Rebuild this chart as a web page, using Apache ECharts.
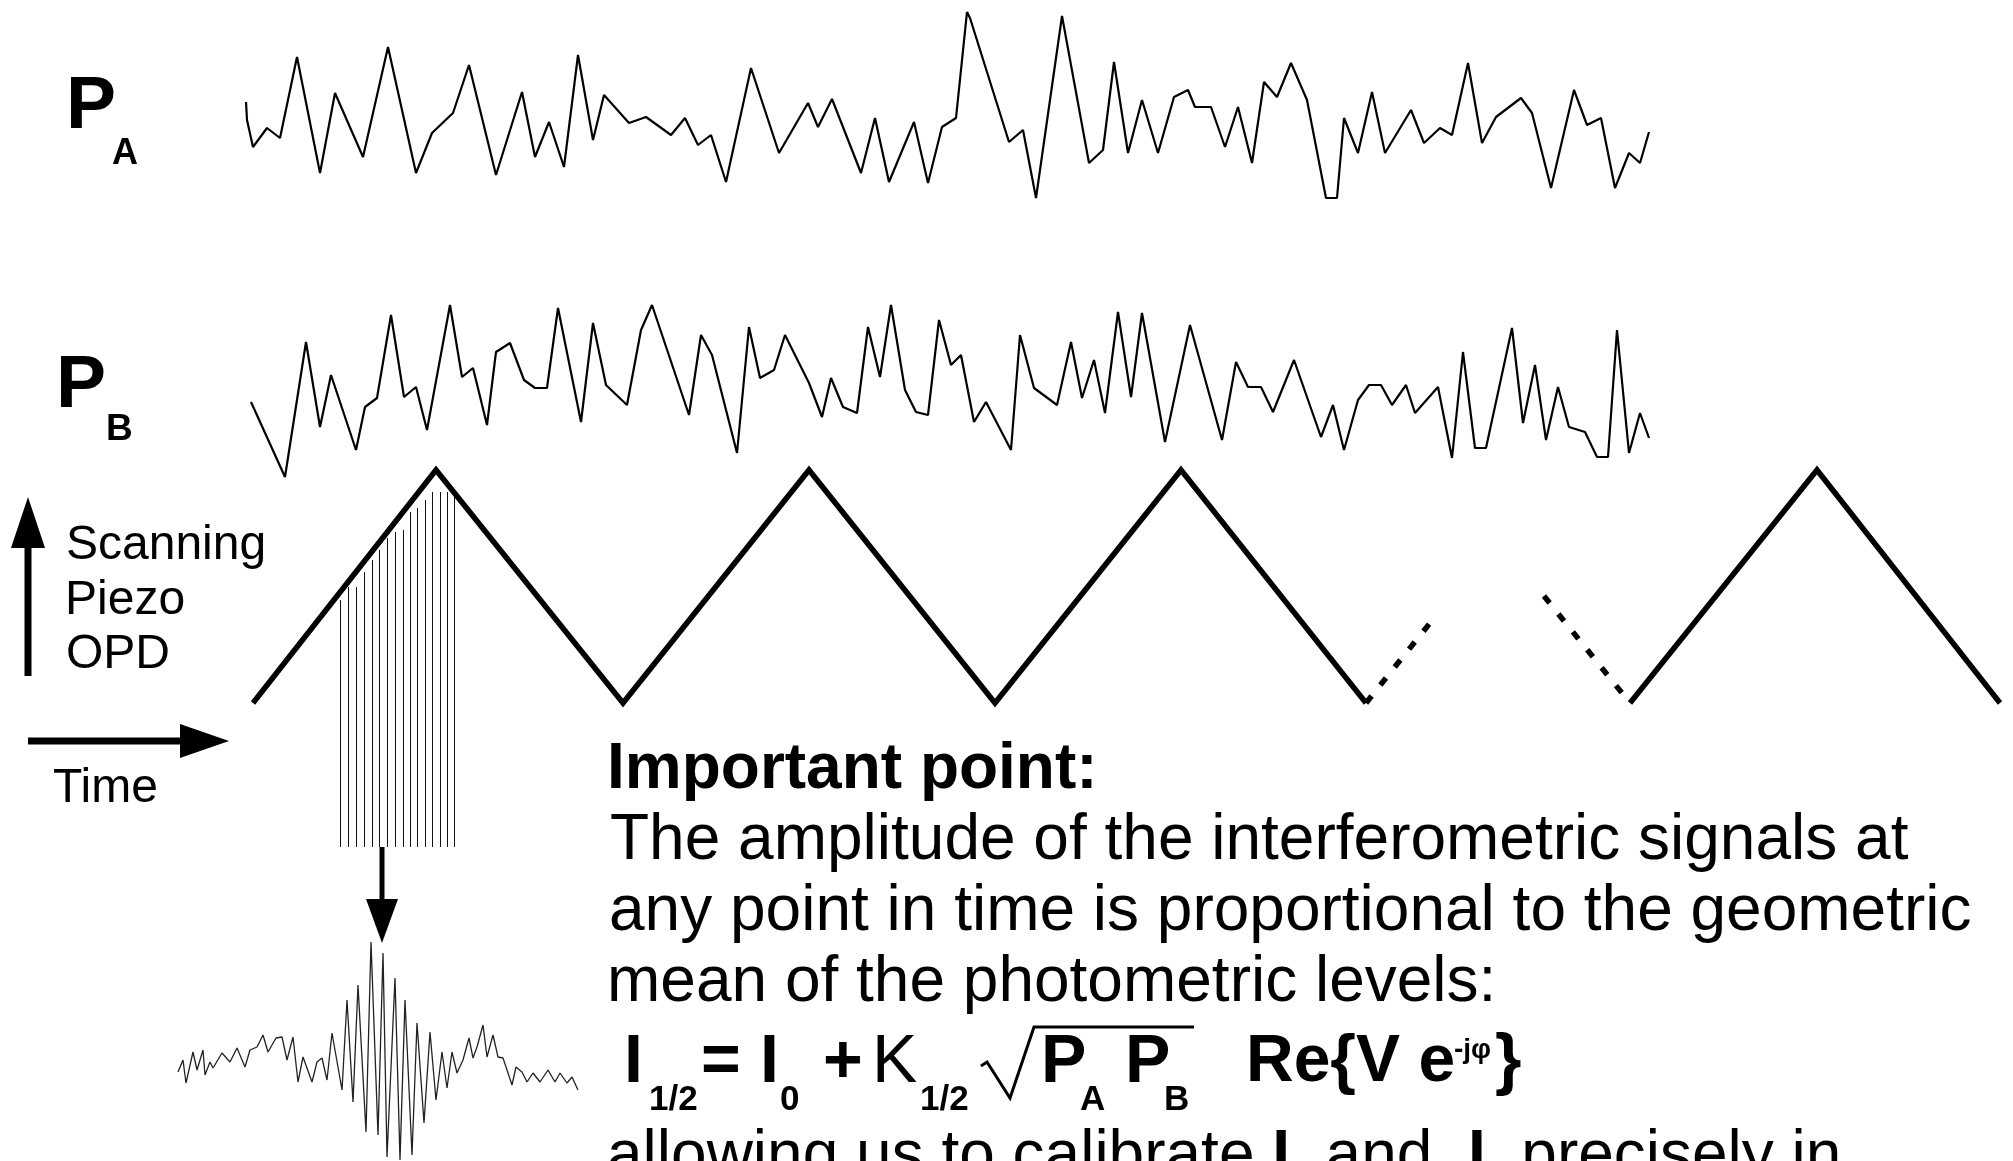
<!DOCTYPE html>
<html><head><meta charset="utf-8">
<script src="https://cdn.jsdelivr.net/npm/echarts@6/dist/echarts.min.js"></script>
<style>html,body{margin:0;padding:0;background:#fff}#c{width:2013px;height:1161px}</style>
</head><body><div id="c"></div><script>
// Photometric signal PA (time in samples, level in arbitrary units)
const paTime = [0,1,7,21,34,51,74,89,117,142,170,186,207,223,250,276,289,303,318,332,347,358,383,400,425,439,452,465,480,505,533,562,572,586,615,629,643,668,682,696,710,721,724,763,777,790,816,843,857,868,882,896,912,928,942,949,965,979,992,1006,1018,1031,1045,1061,1080,1091,1098,1112,1126,1139,1165,1178,1194,1206,1222,1236,1250,1275,1286,1305,1328,1341,1355,1369,1383,1394,1403];
const paLevel = [98,80,53,72,62,143,27,107,43,153,27,67,87,135,25,108,43,78,33,145,60,105,77,83,65,82,55,65,18,132,47,97,73,101,27,82,18,78,17,73,82,188,182,58,70,2,184,37,50,138,47,100,47,103,110,93,93,53,93,37,118,103,137,100,2,2,82,47,108,47,90,57,72,65,137,57,83,102,87,12,110,75,82,12,47,37,68];
// Photometric signal PB
const pbTime = [5,39,60,74,85,110,119,131,145,158,170,181,204,216,227,241,250,264,278,289,301,312,335,347,360,381,395,406,443,455,466,491,503,514,528,539,563,576,585,597,611,622,634,645,659,670,682,693,705,715,728,740,765,774,788,811,825,836,848,859,872,885,896,919,944,976,990,1002,1015,1027,1048,1075,1087,1098,1112,1123,1135,1146,1160,1169,1192,1206,1217,1229,1240,1266,1277,1289,1300,1312,1323,1339,1351,1362,1371,1383,1394,1403];
const pbLevel = [78,3,138,53,105,30,73,82,165,83,93,50,175,103,112,55,128,137,100,92,92,172,58,157,95,75,150,175,65,145,125,27,153,102,110,145,97,63,102,73,67,153,103,175,90,68,65,160,115,125,58,78,30,145,92,75,138,82,120,67,168,83,167,38,155,40,118,93,93,68,120,43,75,30,80,95,95,75,95,67,93,22,128,32,32,152,57,115,40,93,53,48,23,23,150,27,67,42];
// Scanning piezo OPD (triangle wave), solid parts and dotted continuations
const scanTimeA = [7,190,377,563,749,935,1120];
const scanOpdA = [0,233,0,233,0,233,0];
const scanTimeB = [1384,1571,1754];
const scanOpdB = [0,233,0];
const dotTimeA = [1120,1188];
const dotOpdA = [0,85];
const dotTimeB = [1298,1384];
const dotOpdB = [107,0];
// Sampling instants within the first scan
const sampleTime = [94,102,110,118,126,133,141,149,157,164,171,179,186,194,201,208];
const sampleTop = [103,116,116,131,143,153,165,171,173,191,195,203,211,211,211,211];
const sampleBase = -144;
// Resulting fringe packet
const fringeOpd = [0,5,8,15,19,25,27,32,35,44,52,59,67,72,79,85,90,98,104,109,115,120,125,134,139,144,149,154,164,169,175,180,188,193,200,205,209,217,222,227,234,239,246,252,258,264,269,274,279,285,291,295,299,305,309,315,320,325,334,338,344,349,355,362,370,377,382,389,394,400];
const fringeLevel = [-2,10,-13,18,0,20,-5,8,2,17,8,22,3,20,23,35,18,32,33,10,33,-12,13,-12,8,12,-10,37,-20,70,-32,85,-62,128,-65,117,-87,92,-90,70,-85,47,-53,38,-30,18,-18,18,-3,10,32,12,23,45,13,35,13,12,-15,3,-2,-12,-3,-12,0,-12,-3,-13,-7,-20];

const zip = (a, b) => a.map((t, i) => [t, b[i]]);
const FF = '"Liberation Sans", Arial, Helvetica, sans-serif';
function T(text, x, y, size, weight, family) {
  return {type: 'text', x: x, y: y, silent: true, z: 10,
    style: {text: text, fill: '#000', fontSize: size, fontWeight: weight || 'normal', fontFamily: family || FF,
      textAlign: 'left', verticalAlign: 'middle', textVerticalAlign: 'middle'}};
}
function L(x1, y1, x2, y2, w) {
  return {type: 'line', silent: true, z: 10, shape: {x1: x1, y1: y1, x2: x2, y2: y2}, style: {stroke: '#000', lineWidth: w}};
}
function P(points) {
  return {type: 'polygon', silent: true, z: 10, shape: {points: points}, style: {fill: '#000'}};
}
const hiddenAxis = (gi, min, max) => ({gridIndex: gi, type: 'value', min: min, max: max, show: false, splitLine: {show: false}});
const lineBase = {type: 'line', symbol: 'none', showSymbol: false, clip: false, silent: true, animation: false};

const chart = echarts.init(document.getElementById('c'));
chart.setOption({
  animation: false,
  backgroundColor: '#fff',
  grid: [
    {left: 246, width: 1404, top: 12, height: 188},
    {left: 246, width: 1404, top: 300, height: 180},
    {left: 246, width: 1767, top: 470, height: 377},
    {left: 178, width: 400, top: 930, height: 231}
  ],
  xAxis: [hiddenAxis(0, 0, 1404), hiddenAxis(1, 0, 1404), hiddenAxis(2, 0, 1767), hiddenAxis(3, 0, 400)],
  yAxis: [hiddenAxis(0, 0, 188), hiddenAxis(1, 0, 180), hiddenAxis(2, -144, 233), hiddenAxis(3, -91, 140)],
  series: [
    Object.assign({}, lineBase, {xAxisIndex: 0, yAxisIndex: 0, data: zip(paTime, paLevel), lineStyle: {color: '#000', width: 2.2}}),
    Object.assign({}, lineBase, {xAxisIndex: 1, yAxisIndex: 1, data: zip(pbTime, pbLevel), lineStyle: {color: '#000', width: 2.2}}),
    Object.assign({}, lineBase, {xAxisIndex: 2, yAxisIndex: 2, data: zip(scanTimeA, scanOpdA), lineStyle: {color: '#000', width: 5.5, join: 'miter'}}),
    Object.assign({}, lineBase, {xAxisIndex: 2, yAxisIndex: 2, data: zip(scanTimeB, scanOpdB), lineStyle: {color: '#000', width: 5.5, join: 'miter'}}),
    Object.assign({}, lineBase, {xAxisIndex: 2, yAxisIndex: 2, data: zip(dotTimeA, dotOpdA), lineStyle: {color: '#000', width: 5.5, type: [9, 14]}}),
    Object.assign({}, lineBase, {xAxisIndex: 2, yAxisIndex: 2, data: zip(dotTimeB, dotOpdB), lineStyle: {color: '#000', width: 5.5, type: [9, 14]}}),
    {type: 'custom', xAxisIndex: 2, yAxisIndex: 2, clip: false, silent: true,
      data: zip(sampleTime, sampleTop),
      renderItem: function (params, api) {
        const top = api.coord([api.value(0), api.value(1)]);
        const bot = api.coord([api.value(0), sampleBase]);
        const x = Math.round(top[0]) + 0.5;
        return {type: 'line', shape: {x1: x, y1: Math.round(top[1]), x2: x, y2: Math.round(bot[1])}, style: {stroke: '#111', lineWidth: 1}};
      }},
    Object.assign({}, lineBase, {xAxisIndex: 3, yAxisIndex: 3, data: zip(fringeOpd, fringeLevel), lineStyle: {color: '#222', width: 1.3}})
  ],
  graphic: {elements: [
    T('P', 66, 107, 75, 'bold'), T('A', 112, 154, 36, 'bold'),
    T('P', 56, 386, 75, 'bold'), T('B', 106, 430, 37, 'bold'),
    T('Scanning', 66, 546, 48), T('Piezo', 65, 601, 48), T('OPD', 66, 655, 48),
    T('Time', 53, 789, 48),
    L(28, 676, 28, 540, 7), P([[28, 497], [11, 548], [45, 548]]),
    L(28, 741, 185, 741, 7), P([[229, 741], [180, 724], [180, 758]]),
    L(382, 847, 382, 905, 5), P([[366, 899], [398, 899], [382, 943]]),
    T('Important point:', 607, 770, 64, 'bold'),
    T('The amplitude of the interferometric signals at', 610, 841, 64),
    T('any point in time is proportional to the geometric', 609, 912, 64),
    T('mean of the photometric levels:', 607, 983, 64),
    {type: 'text', x: 607, y: 1157, silent: true, z: 10,
      style: {text: 'allowing us to calibrate {b|I}  and  {b|I}  precisely in', fill: '#000', fontSize: 64, fontFamily: FF,
        textAlign: 'left', verticalAlign: 'middle', textVerticalAlign: 'middle',
        rich: {b: {fontSize: 64, fontWeight: 'bold', fontFamily: FF}}}},
    T('I', 624, 1063, 68, 'bold'), T('1/2', 649, 1100, 35, 'bold'),
    T('=', 701, 1063, 68, 'bold'),
    T('I', 760, 1063, 68, 'bold'), T('0', 780, 1100, 35, 'bold'),
    T('+', 823, 1063, 68, 'bold'),
    T('K', 872, 1063, 68), T('1/2', 920, 1100, 35, 'bold'),
    {type: 'polyline', silent: true, z: 10, shape: {points: [[981, 1066], [987, 1062], [1010, 1098], [1034, 1027], [1194, 1027]]}, style: {stroke: '#000', lineWidth: 3, fill: null}},
    T('P', 1041, 1063, 68, 'bold'), T('A', 1080, 1100, 35, 'bold'),
    T('P', 1125, 1063, 68, 'bold'), T('B', 1164, 1100, 35, 'bold'),
    T('Re{V e', 1246, 1063, 66, 'bold'),
    T('-jφ', 1454, 1050, 28, 'bold'),
    T('}', 1495, 1063, 68, 'bold')
  ]}
});
</script></body></html>
